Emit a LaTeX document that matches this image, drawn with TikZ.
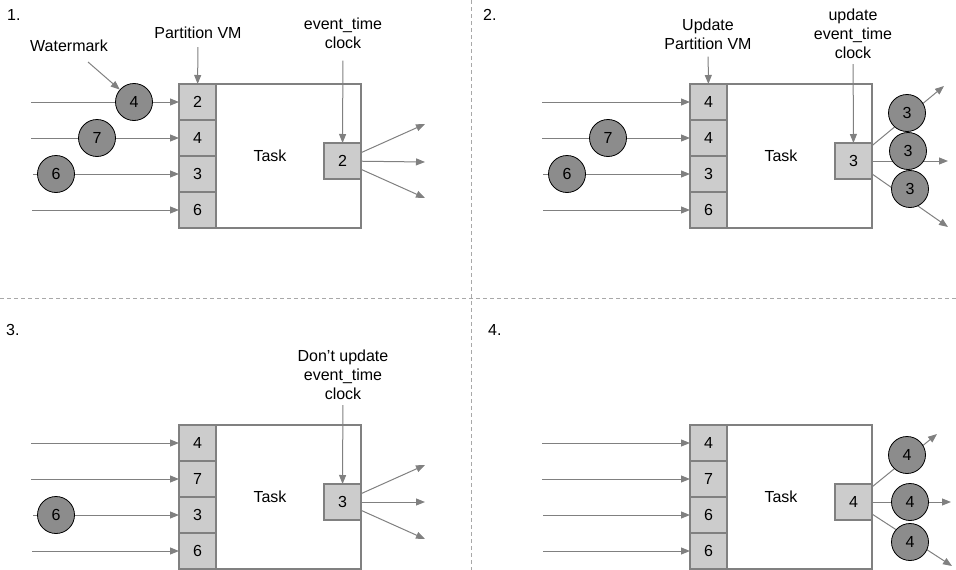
\documentclass[tikz,border=0pt]{standalone}
\usepackage{fontspec}
\setmainfont{Liberation Sans}
\usepackage{tikz}
\usetikzlibrary{arrows.meta,positioning}
\definecolor{linegray}{HTML}{808080}
\definecolor{cellgray}{HTML}{CCCCCC}
\definecolor{markgray}{HTML}{8C8C8C}
\definecolor{sepgray}{HTML}{A8A8A8}

\begin{document}
\begin{tikzpicture}[
    x=1pt, y=-1pt,
    font=\fontsize{16}{19}\selectfont,
    task/.style={draw=linegray, line width=1.2pt, minimum width=182pt, minimum height=144pt, inner sep=0, outer sep=0},
    cell/.style={draw=linegray, line width=1.2pt, fill=cellgray, minimum width=37pt, minimum height=36pt, inner sep=0, outer sep=0},
    wmark/.style={circle, draw=black, line width=0.8pt, fill=markgray, minimum size=37pt, inner sep=0},
    flow/.style={draw=linegray, line width=1pt, -{Triangle[length=9pt, width=7pt]}},
    note/.style={align=center, inner sep=0},
    stepno/.style={anchor=west, inner sep=0},
    sep/.style={draw=sepgray, line width=0.9pt, dash pattern=on 4pt off 3pt}]

\useasboundingbox (0,0) rectangle (956,570);

\coordinate (vtop) at (471,0);
\coordinate (vbot) at (471,570);
\coordinate (hleft) at (0,298);
\coordinate (hright) at (956,298);
\path[sep] (vtop) -- (vbot);
\path[sep] (hleft) -- (hright);

% 1.
\node[stepno] (s1) at (7,15) {1.};
\node[task] (t1) at (270,156) {Task};
\node[cell, anchor=north west] (p1c1) at (t1.north west) {2};
\node[cell, below=0pt of p1c1] (p1c2) {4};
\node[cell, below=0pt of p1c2] (p1c3) {3};
\node[cell, below=0pt of p1c3] (p1c4) {6};
\node[cell, anchor=east] (p1k) at ([yshift=-5pt]t1.east) {2};
\node[note] (p1pl) at (198,33) {Partition VM};
\node[note] (p1kl) at (343,33) {event\_time\\clock};
\node[note] (p1wl) at (69,46) {Watermark};
\coordinate (p1i1) at (31,102);
\coordinate (p1i2) at (31,138);
\coordinate (p1i3) at (33,174);
\coordinate (p1i4) at (32,210);
\coordinate (p1wa) at (88,62);
\coordinate (p1o1) at (425,124);
\coordinate (p1o2) at (425,162);
\coordinate (p1o3) at (425,198);
\path[flow] (p1i1) -- (p1c1);
\path[flow] (p1i2) -- (p1c2);
\path[flow] (p1i3) -- (p1c3);
\path[flow] (p1i4) -- (p1c4);
\path[flow, shorten <=8pt] (p1pl) -- (p1c1);
\path[flow, shorten <=12pt] (p1kl) -- (p1k);
\path[flow] (p1k) -- (p1o1);
\path[flow] (p1k) -- (p1o2);
\path[flow] (p1k) -- (p1o3);
\node[wmark] (p1w4) at (134,102) {4};
\node[wmark] (p1w7) at (97,138) {7};
\node[wmark] (p1w6) at (56,174) {6};
\path[flow] (p1wa) -- (p1w4);

% 2.
\node[stepno] (s2) at (483,15) {2.};
\node[task] (t2) at (781,156) {Task};
\node[cell, anchor=north west] (p2c1) at (t2.north west) {4};
\node[cell, below=0pt of p2c1] (p2c2) {4};
\node[cell, below=0pt of p2c2] (p2c3) {3};
\node[cell, below=0pt of p2c3] (p2c4) {6};
\node[cell, anchor=east] (p2k) at ([yshift=-5pt]t2.east) {3};
\node[note] (p2pl) at (708,34) {Update\\Partition VM};
\node[note] (p2kl) at (853,34) {update\\event\_time\\clock};
\coordinate (p2i1) at (542,102);
\coordinate (p2i2) at (542,138);
\coordinate (p2i3) at (543,174);
\coordinate (p2i4) at (543,210);
\coordinate (p2o1) at (944,86);
\coordinate (p2o2) at (948,161);
\coordinate (p2o3) at (948,227);
\path[flow] (p2i1) -- (p2c1);
\path[flow] (p2i2) -- (p2c2);
\path[flow] (p2i3) -- (p2c3);
\path[flow] (p2i4) -- (p2c4);
\path[flow, shorten <=7pt] (p2pl) -- (p2c1);
\path[flow, shorten <=5pt] (p2kl) -- (p2k);
\path[flow] (p2k) -- (p2o1);
\path[flow] (p2k) -- (p2o2);
\path[flow] (p2k) -- (p2o3);
\node[wmark] (p2w7) at (608,138) {7};
\node[wmark] (p2w6) at (567,174) {6};
\node[wmark] (p2m1) at (907,113) {3};
\node[wmark] (p2m2) at (908,151) {3};
\node[wmark] (p2m3) at (910,189) {3};

% 3.
\node[stepno] (s3) at (6,330) {3.};
\node[task] (t3) at (270,497) {Task};
\node[cell, anchor=north west] (p3c1) at (t3.north west) {4};
\node[cell, below=0pt of p3c1] (p3c2) {7};
\node[cell, below=0pt of p3c2] (p3c3) {3};
\node[cell, below=0pt of p3c3] (p3c4) {6};
\node[cell, anchor=east] (p3k) at ([yshift=-5pt]t3.east) {3};
\node[note] (p3kl) at (343,375) {Don’t update\\event\_time\\clock};
\coordinate (p3i1) at (31,443);
\coordinate (p3i2) at (31,479);
\coordinate (p3i3) at (33,515);
\coordinate (p3i4) at (32,551);
\coordinate (p3o1) at (425,465);
\coordinate (p3o2) at (425,502);
\coordinate (p3o3) at (425,539);
\path[flow] (p3i1) -- (p3c1);
\path[flow] (p3i2) -- (p3c2);
\path[flow] (p3i3) -- (p3c3);
\path[flow] (p3i4) -- (p3c4);
\path[flow, shorten <=5pt] (p3kl) -- (p3k);
\path[flow] (p3k) -- (p3o1);
\path[flow] (p3k) -- (p3o2);
\path[flow] (p3k) -- (p3o3);
\node[wmark] (p3w6) at (56,515) {6};

% 4.
\node[stepno] (s4) at (488,330) {4.};
\node[task] (t4) at (781,497) {Task};
\node[cell, anchor=north west] (p4c1) at (t4.north west) {4};
\node[cell, below=0pt of p4c1] (p4c2) {7};
\node[cell, below=0pt of p4c2] (p4c3) {6};
\node[cell, below=0pt of p4c3] (p4c4) {6};
\node[cell, anchor=east] (p4k) at ([yshift=-5pt]t4.east) {4};
\coordinate (p4i1) at (542,443);
\coordinate (p4i2) at (542,479);
\coordinate (p4i3) at (543,515);
\coordinate (p4i4) at (543,551);
\coordinate (p4o1) at (937,434);
\coordinate (p4o2) at (951,502);
\coordinate (p4o3) at (952,566);
\path[flow] (p4i1) -- (p4c1);
\path[flow] (p4i2) -- (p4c2);
\path[flow] (p4i3) -- (p4c3);
\path[flow] (p4i4) -- (p4c4);
\path[flow] (p4k) -- (p4o1);
\path[flow] (p4k) -- (p4o2);
\path[flow] (p4k) -- (p4o3);
\node[wmark] (p4m1) at (907,455) {4};
\node[wmark] (p4m2) at (910,502) {4};
\node[wmark] (p4m3) at (910,542) {4};

\end{tikzpicture}
\end{document}
